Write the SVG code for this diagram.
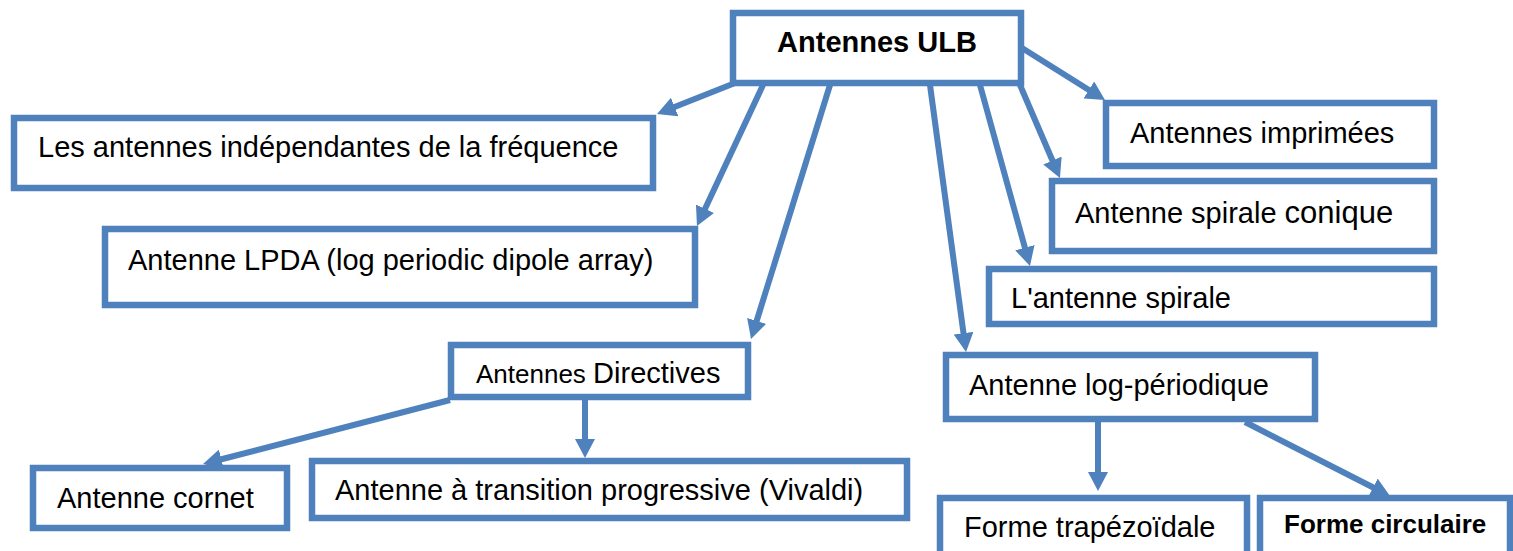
<svg xmlns="http://www.w3.org/2000/svg" width="1513" height="551" viewBox="0 0 1513 551">
<style>
.box{fill:#ffffff;stroke:#4F81BD;stroke-width:6.5}
.t{font-family:"Liberation Sans",Arial,sans-serif;font-size:29px;fill:#000}
.b{font-weight:bold}
.s26{font-size:26px}
.c{stroke:#4F81BD;stroke-width:6;fill:none;marker-end:url(#ah)}
</style>
<defs>
<marker id="ah" markerUnits="userSpaceOnUse" viewBox="0 0 19 20" refX="9" refY="10" markerWidth="19" markerHeight="20" orient="auto">
<path d="M0,0 L19,10 L0,20 z" fill="#4F81BD"/>
</marker>
</defs>
<rect width="1513" height="551" fill="#ffffff"/>
<g id="connectors">
<line class="c" x1="735" y1="83" x2="666.3" y2="110.3"/>
<line class="c" x1="763" y1="85" x2="701.2" y2="216.9"/>
<line class="c" x1="830" y1="85" x2="754" y2="329.5"/>
<line class="c" x1="930" y1="85" x2="964.7" y2="342.1"/>
<line class="c" x1="980" y1="85" x2="1027.3" y2="256.4"/>
<line class="c" x1="1020" y1="85" x2="1056" y2="168.8"/>
<line class="c" x1="1022" y1="48" x2="1096.5" y2="94.7"/>
<line class="c" x1="450" y1="400" x2="212.7" y2="461.5"/>
<line class="c" x1="585" y1="400" x2="585" y2="448"/>
<line class="c" x1="1098" y1="422" x2="1098" y2="481"/>
<line class="c" x1="1245" y1="422" x2="1381.1" y2="491.5"/>
</g>
<g id="n-ulb">
<rect class="box" x="733" y="13" width="288" height="70"/>
<text class="t b" x="877" y="52" text-anchor="middle">Antennes ULB</text>
</g>
<g id="n-independantes">
<rect class="box" x="14" y="118" width="639" height="70"/>
<text class="t" x="38" y="157">Les antennes indépendantes de la fréquence</text>
</g>
<g id="n-lpda">
<rect class="box" x="105" y="229" width="590" height="76"/>
<text class="t" x="128" y="270">Antenne LPDA (log periodic dipole array)</text>
</g>
<g id="n-directives">
<rect class="box" x="451" y="345" width="297" height="52"/>
<text class="t" x="476" y="383"><tspan class="s26">Antennes </tspan><tspan>Directives</tspan></text>
</g>
<g id="n-cornet">
<rect class="box" x="33" y="468" width="254" height="60"/>
<text class="t" x="57" y="508">Antenne cornet</text>
</g>
<g id="n-vivaldi">
<rect class="box" x="312" y="461" width="595" height="57"/>
<text class="t" x="335" y="500">Antenne à transition progressive (Vivaldi)</text>
</g>
<g id="n-imprimees">
<rect class="box" x="1106" y="103" width="328" height="63"/>
<text class="t" x="1130" y="143">Antennes imprimées</text>
</g>
<g id="n-conique">
<rect class="box" x="1052" y="181" width="382" height="70"/>
<text class="t" x="1075" y="223"><tspan>Antenne spirale </tspan><tspan style="font-size:31px">conique</tspan></text>
</g>
<g id="n-spirale">
<rect class="box" x="989" y="269" width="445" height="55"/>
<text class="t" x="1011" y="308">L'antenne spirale</text>
</g>
<g id="n-logper">
<rect class="box" x="946" y="355" width="369" height="64"/>
<text class="t" x="969" y="395">Antenne log-périodique</text>
</g>
<g id="n-trapez">
<rect class="box" x="940" y="498" width="307" height="70"/>
<text class="t" x="964" y="537">Forme trapézoïdale</text>
</g>
<g id="n-circulaire">
<rect class="box" x="1260" y="498" width="250" height="70"/>
<text class="t b s26" x="1284" y="533">Forme circulaire</text>
</g>
</svg>
